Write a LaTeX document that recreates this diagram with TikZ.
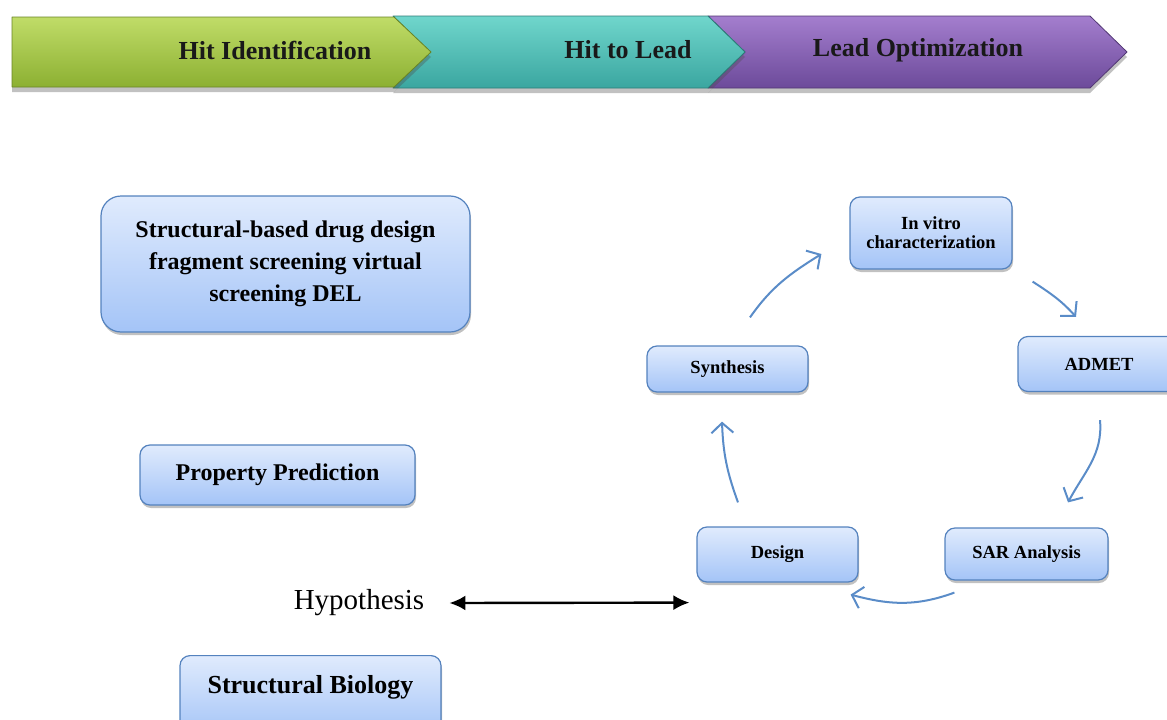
\documentclass[tikz,border=0pt]{standalone}
\usepackage{fontspec}
\setmainfont{Liberation Serif}
\usetikzlibrary{arrows.meta,shadows,calc}
\definecolor{greentop}{RGB}{192,220,104}
\definecolor{greenbot}{RGB}{140,176,50}
\definecolor{tealtop}{RGB}{112,214,204}
\definecolor{tealbot}{RGB}{58,166,160}
\definecolor{purpletop}{RGB}{164,126,206}
\definecolor{purplebot}{RGB}{108,74,154}
\definecolor{boxtop}{RGB}{224,235,253}
\definecolor{boxbot}{RGB}{164,196,247}
\definecolor{boxline}{RGB}{84,130,190}
\definecolor{cycline}{RGB}{90,140,200}
\tikzset{
  phase/.style n args={2}{top color=#1, bottom color=#2, draw=#2!75!black,
    line width=0.8pt, line join=round,
    drop shadow={shadow xshift=0pt, shadow yshift=-5pt, opacity=0.35, fill=black!70}},
  phasetext/.style={font=\fontsize{26}{30}\selectfont\bfseries, text=black!90},
  bluebox/.style={draw=boxline, line width=1.2pt, rounded corners=10pt,
    top color=boxtop, bottom color=boxbot, align=center,
    drop shadow={shadow xshift=1pt, shadow yshift=-3pt, opacity=0.35, fill=black!70}},
  bigtext/.style={font=\fontsize{24}{32}\selectfont\bfseries},
  cyctext/.style={font=\fontsize{18.5}{19}\selectfont\bfseries},
  cycarrow/.style={draw=cycline, line width=2pt, -{Straight Barb[length=10pt,width=22pt]}}
}

\begin{document}
\begin{tikzpicture}[x=1pt,y=1pt]
\useasboundingbox (0,0) rectangle (1167,-720);

\path[phase={purpletop}{purplebot}] (708,-16) -- (1090,-16) -- (1127,-52) -- (1090,-88) -- (708,-88) -- (745,-52) -- cycle;
\path[phase={tealtop}{tealbot}] (393,-16) -- (708,-16) -- (745,-52) -- (708,-88) -- (393,-88) -- (430,-52) -- cycle;
\path[phase={greentop}{greenbot}] (12,-17) -- (394,-17) -- (431,-52) -- (394,-87) -- (12,-87) -- cycle;
\node[phasetext] (hitid) at (275,-50) {Hit Identification};
\node[phasetext] (hitlead) at (628,-50) {Hit to Lead};
\node[phasetext] (leadopt) at (918,-50) {Lead Optimization};

\node[bluebox, bigtext, rounded corners=20pt, minimum width=369pt, minimum height=136pt] (sbdd) at (285.5,-264)
  {Structural-based drug design\\fragment screening virtual\\screening DEL};
\node[bluebox, bigtext, minimum width=275pt, minimum height=60pt] (prop) at (277.5,-475) {Property Prediction};
\node[bluebox, font=\fontsize{26}{30}\selectfont\bfseries, anchor=north, minimum width=261pt,
  inner ysep=0pt, text height=38pt, text depth=42pt] (sbio) at (310.5,-655) {Structural Biology};

\node[font=\fontsize{29}{32}\selectfont, inner sep=0pt] (hyp) at (359,-603) {Hypothesis};

\node[bluebox, cyctext, minimum width=162pt, minimum height=72pt] (vitro) at (931,-233) {In vitro\\characterization};
\node[bluebox, cyctext, minimum width=162pt, minimum height=55pt] (admet) at (1099,-364) {ADMET};
\node[bluebox, cyctext, minimum width=163pt, minimum height=52pt] (sar) at (1026.5,-554) {SAR Analysis};
\node[bluebox, cyctext, minimum width=161pt, minimum height=55pt] (design) at (777.5,-554.5) {Design};
\node[bluebox, cyctext, minimum width=161pt, minimum height=46pt] (syn) at (727.5,-369) {Synthesis};

\draw[cycarrow] ([xshift=22.5pt,yshift=28pt]syn.north) to[out=55,in=212] ([xshift=-28pt,yshift=-21pt]vitro.west);
\draw[cycarrow] ([xshift=20pt,yshift=-12pt]vitro.south east) to[out=-33,in=132] ([xshift=-23pt,yshift=19pt]admet.north);
\draw[cycarrow] ([xshift=1pt,yshift=-28pt]admet.south) to[out=-85,in=62] ([xshift=41.5pt,yshift=25pt]sar.north);
\draw[cycarrow] ([xshift=10pt,yshift=-12pt]sar.south west) to[out=200,in=-15] ([xshift=-8pt,yshift=-12pt]design.south east);
\draw[cycarrow] ([xshift=-39.5pt,yshift=24pt]design.north) to[out=110,in=-88] ([xshift=-5.5pt,yshift=-29pt]syn.south);

\coordinate (hypend) at ([xshift=-7pt,yshift=-20pt]design.south west);
\draw[line width=2.4pt, {Latex[length=16pt,width=15pt]}-{Latex[length=16pt,width=15pt]}] ([xshift=25pt]hyp.east) -- (hypend);
\end{tikzpicture}
\end{document}
